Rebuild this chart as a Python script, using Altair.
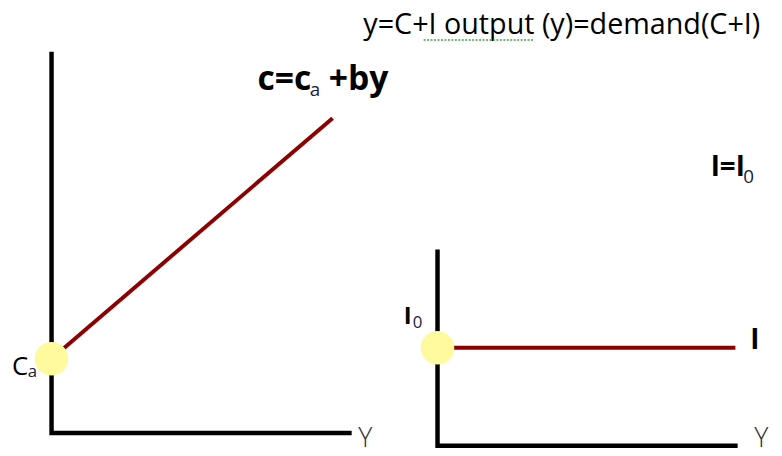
import altair as alt
import pandas as pd

# ---- diagram data (diagram units) ----
# left panel: consumption function c = ca + b*y
left_axis_x = [44, 44, 345]
left_axis_y = [404, 21, 21]
cons_x = [44, 328]
cons_y = [96, 339]
# right panel: investment I = I0 (constant)
right_axis_x = [434, 434, 735]
right_axis_y = [204, 8, 8]
inv_x = [434, 735]
inv_y = [107, 107]
# intercepts (Ca and I0)
icpt_x = [44, 434]
icpt_y = [96, 107]

# labels
big_labels = ["c=c", "+by"]
big_x = [252, 324]
big_y = [367, 367]

eq_labels = ["I=I", "I"]
eq_x = [710, 750]
eq_y = [281, 106]

sub_labels = ["a", "0"]
sub_x = [305, 743]
sub_y = [361, 274]

ca_label = ["C"]
ca_x = [4]
ca_y = [80]
i0_label = ["I"]
i0_x = [400]
i0_y = [131]
mid_sub_labels = ["a", "0"]
mid_sub_x = [20, 409]
mid_sub_y = [77, 127]

axis_labels = ["Y", "Y"]
axis_lab_x = [354, 754]
axis_lab_y = [7, 7]

title_text = ["y=C+I  output (y)=demand(C+I)"]
title_x = [359]
title_y = [424]
squiggle_x = [420, 532]
squiggle_y = [418, 418]

FONT = "Open Sans"
W, H = 774, 448
X = lambda: alt.X("x:Q", scale=alt.Scale(domain=[0, W], nice=False, zero=False), axis=None)
Y = lambda: alt.Y("y:Q", scale=alt.Scale(domain=[0, H], nice=False, zero=False), axis=None)


def path_df(xs, ys, name):
    return pd.DataFrame({"x": xs, "y": ys, "o": list(range(len(xs))), "g": name})


axes_df = pd.concat([path_df(left_axis_x, left_axis_y, "L"), path_df(right_axis_x, right_axis_y, "R")])
axes = alt.Chart(axes_df).mark_line(color="black", strokeWidth=4.5, strokeCap="square").encode(
    x=X(), y=Y(), order="o:Q", detail="g:N")

curves_df = pd.concat([path_df(cons_x, cons_y, "C"), path_df(inv_x, inv_y, "I")])
curves = alt.Chart(curves_df).mark_line(color="#8B0000", strokeWidth=4).encode(
    x=X(), y=Y(), order="o:Q", detail="g:N")

dots = alt.Chart(pd.DataFrame({"x": icpt_x, "y": icpt_y})).mark_circle(
    size=1150, color="#FFFA9E", opacity=1).encode(x=X(), y=Y())


def text_layer(labels, xs, ys, size, weight="normal", color="black"):
    df = pd.DataFrame({"x": xs, "y": ys, "t": labels})
    return alt.Chart(df).mark_text(align="left", baseline="alphabetic", font=FONT,
                                   fontSize=size, fontWeight=weight, color=color).encode(
        x=X(), y=Y(), text="t:N")


t_big = text_layer(big_labels, big_x, big_y, 34, "bold")
t_eq = text_layer(eq_labels, eq_x, eq_y, 28, "bold")
t_sub = text_layer(sub_labels, sub_x, sub_y, 19, "normal", "#1a1a3a")
t_ca = text_layer(ca_label, ca_x, ca_y, 26, "normal")
t_i0 = text_layer(i0_label, i0_x, i0_y, 24, "bold")
t_midsub = text_layer(mid_sub_labels, mid_sub_x, mid_sub_y, 17, "normal", "#1a1a3a")
t_axis = text_layer(axis_labels, axis_lab_x, axis_lab_y, 27, 300, "#333333")
t_title = text_layer(title_text, title_x, title_y, 29, "normal")

squiggle = alt.Chart(pd.DataFrame({"x": squiggle_x, "y": squiggle_y})).mark_line(
    color="#3fa03f", strokeWidth=1.5, strokeDash=[2, 1.5]).encode(x=X(), y=Y())

chart = alt.layer(axes, curves, dots, t_big, t_eq, t_sub, t_ca, t_i0, t_midsub, t_axis, t_title,
                  squiggle).properties(
    width=W, height=H, padding=0, autosize=alt.AutoSizeParams(type="none")
).configure_view(stroke=None)

chart.save("out.html", embed_options={"renderer": "svg", "actions": False})
